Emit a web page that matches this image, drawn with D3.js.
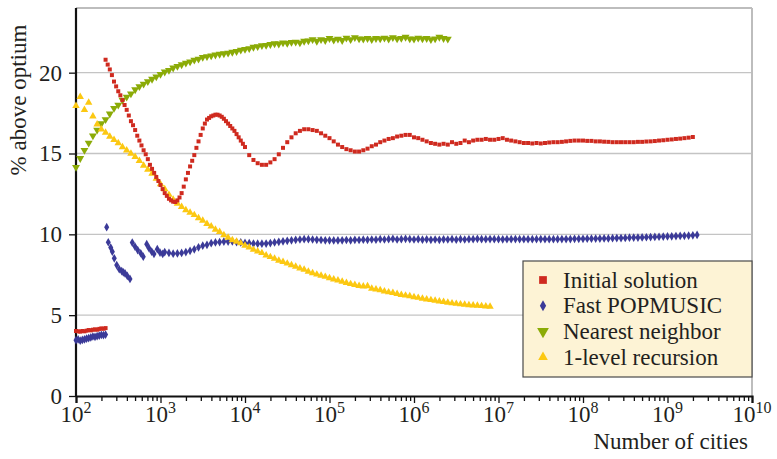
<!DOCTYPE html>
<html><head><meta charset="utf-8">
<script src="https://cdn.jsdelivr.net/npm/d3@7"></script>
<style>
html,body{margin:0;padding:0;background:#fff;}
svg{display:block;}
svg text{font-family:"Liberation Serif","DejaVu Serif",serif;}
</style></head>
<body><svg id="chart" width="777" height="459"></svg>
<script>
// ---------- DATA (log10 of number of cities -> % above optimum) ----------
const seriesNames = ["Initial solution","Fast POPMUSIC","Nearest neighbor","1-level recursion"];
const xTickExponents = [2,3,4,5,6,7,8,9,10];
const yTicks = [0,5,10,15,20];

// small instances (log10 n from 2.00, step 0.025)
const smallStart = 2.0, smallStep = 0.025;
const initialSmall = [4.02,4.0,3.98,4.02,4.0,4.04,4.08,4.06,4.1,4.12,4.1,4.15,4.18,4.16,4.2];
const popmusicSmall = [3.45,3.5,3.42,3.47,3.5,3.55,3.58,3.62,3.68,3.66,3.7,3.74,3.78,3.76,3.8];

// Initial solution, part A: log10 n from 2.35, step 0.025
const initialStartA = 2.35, initialStepA = 0.025;
const initialValuesA = [20.8,20.5,20.2,19.85,19.45,19.15,18.85,18.6,18.3,18.0,17.7,17.35,17.0,16.75,16.45,16.1,15.8,15.5,15.2,14.95,
14.65,14.3,14.05,13.8,13.55,13.3,13.05,12.8,12.55,12.38,12.2,12.1,12.02,12.0,12.1,12.28,12.55,12.95,13.4,13.8,
14.2,14.55,14.9,15.35,15.75,16.15,16.55,16.85,17.1,17.2,17.3,17.35,17.4,17.4,17.35,17.27,17.15,17.0,16.85,16.7,
16.55,16.4,16.2,16.0,15.8,15.6,15.4];
// Initial solution, part B: log10 n from 4.05, step 0.05
const initialStartB = 4.05, initialStepB = 0.05;
const initialValuesB = [14.9,14.6,14.4,14.3,14.3,14.45,
14.65,14.95,15.35,15.7,16.0,16.25,16.4,16.5,16.5,16.45,16.4,16.25,16.1,15.95,15.75,15.55,15.4,15.27,15.2,15.12,
15.12,15.2,15.3,15.45,15.55,15.7,15.8,15.9,15.95,16.05,16.1,16.15,16.15,16.0,15.95,15.85,15.75,15.65,15.6,15.55,
15.6,15.55,15.7,15.6,15.65,15.8,15.7,15.8,15.85,15.85,15.9,15.85,15.85,15.9,15.95,15.85,15.8,15.75,15.7,15.65,
15.65,15.62,15.65,15.62,15.65,15.68,15.7,15.7,15.72,15.75,15.78,15.8,15.8,15.8,15.78,15.78,15.75,15.75,15.73,15.72,
15.7,15.7,15.7,15.7,15.7,15.7,15.72,15.72,15.74,15.75,15.77,15.8,15.82,15.85,15.87,15.9,15.92,15.95,15.98,16.02];

// Fast POPMUSIC, irregular early part (log10 n, value)
const popmusicEarlyLogN = [2.363,2.382,2.411,2.430,2.453,2.482,2.512,2.541,2.560,2.580,2.607,2.639,
2.666,2.698,2.730,2.766,2.796,2.837,2.864,2.896,2.923,2.962,2.994,3.026];
const popmusicEarlyValues = [10.44,9.51,9.18,8.93,8.52,8.1,7.84,7.73,7.65,7.59,7.43,7.24,
9.49,9.24,9.03,8.83,8.62,9.39,9.14,8.93,8.79,9.08,8.87,8.79];
// Fast POPMUSIC, log10 n from 3.05, step 0.05
const popmusicStart = 3.05, popmusicStep = 0.05;
const popmusicValues = [8.9,8.85,8.8,8.82,8.85,8.9,8.98,9.07,9.2,9.3,9.35,9.45,9.5,9.52,9.55,9.55,9.56,9.52,9.5,9.47,
9.45,9.43,9.42,9.42,9.43,9.46,9.5,9.54,9.57,9.6,9.63,9.66,9.68,9.7,9.7,9.68,9.66,9.65,9.63,9.63,
9.62,9.62,9.63,9.65,9.63,9.66,9.65,9.67,9.66,9.68,9.67,9.7,9.68,9.7,9.72,9.68,9.7,9.72,9.7,9.68,
9.7,9.67,9.69,9.66,9.68,9.66,9.69,9.68,9.7,9.67,9.7,9.68,9.7,9.7,9.72,9.7,9.7,9.71,9.7,9.7,
9.69,9.7,9.7,9.71,9.7,9.7,9.7,9.7,9.7,9.71,9.7,9.7,9.7,9.7,9.71,9.71,9.71,9.72,9.72,9.72,
9.73,9.73,9.74,9.74,9.75,9.75,9.76,9.77,9.77,9.78,9.79,9.8,9.8,9.81,9.82,9.83,9.84,9.85,9.86,9.87,
9.88,9.89,9.9,9.91,9.92,9.94,9.96];

// Nearest neighbor, log10 n from 2.00, step 0.05
const nearestStart = 2.0, nearestStep = 0.05;
const nearestValues = [14.15,14.7,15.2,15.65,16.1,16.45,16.85,17.1,17.45,17.8,18.0,18.3,18.5,18.7,18.95,19.15,19.3,19.45,19.6,19.75,
19.9,20.05,20.15,20.3,20.4,20.5,20.6,20.68,20.78,20.85,20.95,21.0,21.05,21.1,21.15,21.18,21.22,21.27,21.32,21.4,
21.45,21.5,21.58,21.62,21.68,21.7,21.75,21.8,21.78,21.85,21.82,21.88,21.9,21.85,21.95,21.98,22.05,21.95,22.05,22.0,
22.12,22.02,22.08,22.0,22.15,22.05,22.18,22.1,22.08,22.12,22.05,22.12,22.1,22.15,22.08,22.18,22.1,22.13,22.2,22.1,
22.08,22.15,22.1,22.12,22.05,22.1,22.2,22.12,22.08];

// 1-level recursion, log10 n from 2.00, step 0.05
const recursionStart = 2.0, recursionStep = 0.05;
const recursionValues = [17.95,18.5,17.7,18.15,17.3,16.8,16.5,16.3,16.05,15.85,15.65,15.4,15.2,15.0,14.8,14.55,14.25,14.0,13.75,13.45,
13.1,12.8,12.45,12.15,11.9,11.7,11.5,11.35,11.2,11.0,10.85,10.65,10.5,10.3,10.15,9.95,9.8,9.65,9.55,9.45,
9.3,9.2,9.05,8.95,8.85,8.7,8.6,8.5,8.38,8.3,8.2,8.1,8.0,7.9,7.82,7.7,7.6,7.52,7.45,7.38,
7.3,7.22,7.15,7.08,7.0,6.93,6.88,6.82,6.78,6.8,6.65,6.6,6.55,6.48,6.42,6.38,6.32,6.26,6.22,6.18,
6.12,6.08,6.03,5.98,5.94,5.9,5.86,5.82,5.78,5.74,5.71,5.68,5.65,5.63,5.61,5.59,5.57,5.55,5.53];

// ---------- BUILD ----------
const gridSeries = (start, step, vals) => vals.map((v, i) => ({n: Math.pow(10, start + i * step), v}));
const pairSeries = (logs, vals) => vals.map((v, i) => ({n: Math.pow(10, logs[i]), v}));

const dataInitial = gridSeries(smallStart, smallStep, initialSmall)
  .concat(gridSeries(initialStartA, initialStepA, initialValuesA))
  .concat(gridSeries(initialStartB, initialStepB, initialValuesB));
const dataPopmusic = gridSeries(smallStart, smallStep, popmusicSmall)
  .concat(pairSeries(popmusicEarlyLogN, popmusicEarlyValues))
  .concat(gridSeries(popmusicStart, popmusicStep, popmusicValues));
const dataNearest = gridSeries(nearestStart, nearestStep, nearestValues);
const dataRecursion = gridSeries(recursionStart, recursionStep, recursionValues);

const FONT = "Liberation Serif, DejaVu Serif, serif";
const svg = d3.select("#chart");
const L = 76, R = 752, T = 8, B = 396;
const x = d3.scaleLog().domain([1e2, 1e10]).range([L, R]);
const y = d3.scaleLinear().domain([0, 24]).range([B, T]);

const textColor = "#231f20";
const fontSize = 23;

// gridlines
svg.append("g").selectAll("line").data(yTicks.filter(d => d > 0)).join("line")
  .attr("x1", L).attr("x2", R).attr("y1", d => y(d)).attr("y2", d => y(d))
  .attr("stroke", "#c4c4c4").attr("stroke-width", 1.3);
// top and right border
svg.append("line").attr("x1", L).attr("x2", R).attr("y1", T).attr("y2", T).attr("stroke", "#bdbdbd").attr("stroke-width", 2);
svg.append("line").attr("x1", R).attr("x2", R).attr("y1", T).attr("y2", B).attr("stroke", "#bdbdbd").attr("stroke-width", 2);

// x axis ticks
const majorN = xTickExponents.map(e => Math.pow(10, e));
const minorN = [];
xTickExponents.slice(0, -1).forEach(e => { for (let k = 2; k <= 9; k++) minorN.push(k * Math.pow(10, e)); });
const xAxisG = svg.append("g").attr("transform", `translate(0,${B})`);
xAxisG.call(d3.axisBottom(x).tickValues(majorN).tickSize(7).tickFormat(""));
xAxisG.append("g").call(d3.axisBottom(x).tickValues(minorN).tickSize(5).tickFormat(""));
xAxisG.selectAll(".domain").attr("stroke", "#111").attr("stroke-width", 2.2);
xAxisG.selectAll(".tick line").attr("stroke", "#111").attr("stroke-width", 1.3);
xAxisG.selectAll(".domain").filter((d, i) => i > 0).remove();

const xl = svg.append("g").attr("font-size", fontSize).attr("fill", textColor).attr("font-family", FONT);
xTickExponents.forEach(e => {
  const t = xl.append("text").attr("x", x(Math.pow(10, e))).attr("y", 422).attr("text-anchor", "middle");
  t.append("tspan").text("10");
  t.append("tspan").attr("dy", -9).attr("font-size", 16).text(e);
});

// y axis
const yAxisG = svg.append("g").attr("transform", `translate(${L},0)`);
yAxisG.call(d3.axisLeft(y).tickValues(yTicks).tickSize(7).tickPadding(7).tickFormat(d3.format("d")));
yAxisG.attr("font-family", FONT);
yAxisG.select(".domain").attr("stroke", "#111").attr("stroke-width", 2.2).attr("d", `M0,${B}V${T}`);
yAxisG.selectAll(".tick line").attr("stroke", "#111").attr("stroke-width", 1.3);
yAxisG.selectAll(".tick text").attr("font-size", fontSize).attr("fill", textColor).attr("font-family", FONT);

// axis titles
svg.append("text").attr("x", 748).attr("y", 449).attr("text-anchor", "end").attr("font-family", FONT)
  .attr("font-size", fontSize).attr("fill", textColor).text("Number of cities");
svg.append("text").attr("transform", "translate(26,100) rotate(-90)").attr("text-anchor", "middle").attr("font-family", FONT)
  .attr("font-size", fontSize).attr("fill", textColor).text("% above optium");

// marks
const colors = ["#cf2a1f", "#3b3a98", "#8bab07", "#fcc812"];
const shapes = [
  {type: d3.symbolSquare, size: 16, rot: 0},
  {type: d3.symbolDiamond, size: 22, rot: 0},
  {type: d3.symbolTriangle, size: 27, rot: 180},
  {type: d3.symbolTriangle, size: 24, rot: 0}
];
const datasets = [dataInitial, dataPopmusic, dataNearest, dataRecursion];
const order = [2, 1, 3, 0];
const plot = svg.append("g");
order.forEach(si => {
  const sh = shapes[si];
  const sym = d3.symbol().type(sh.type).size(sh.size);
  plot.append("g").selectAll("path").data(datasets[si]).join("path")
    .attr("d", sym)
    .attr("fill", colors[si])
    .attr("transform", d => `translate(${x(d.n)},${y(d.v)}) rotate(${sh.rot})`);
});

// legend
const lg = svg.append("g");
lg.append("rect").attr("x", 523).attr("y", 261).attr("width", 229).attr("height", 116)
  .attr("fill", "#fdf3d5").attr("stroke", "#4a4a4a").attr("stroke-width", 1.2);
const legendSizes = [60, 34, 60, 40];
seriesNames.forEach((name, i) => {
  const cy = 280 + i * 25.7;
  const sh = shapes[i];
  lg.append("path").attr("d", d3.symbol().type(sh.type).size(legendSizes[i]))
    .attr("fill", colors[i]).attr("transform", `translate(543,${cy}) rotate(${sh.rot})`);
  lg.append("text").attr("x", 563).attr("y", cy).attr("dy", "0.33em").attr("font-family", FONT)
    .attr("font-size", fontSize).attr("fill", textColor).text(name);
});
</script></body></html>
